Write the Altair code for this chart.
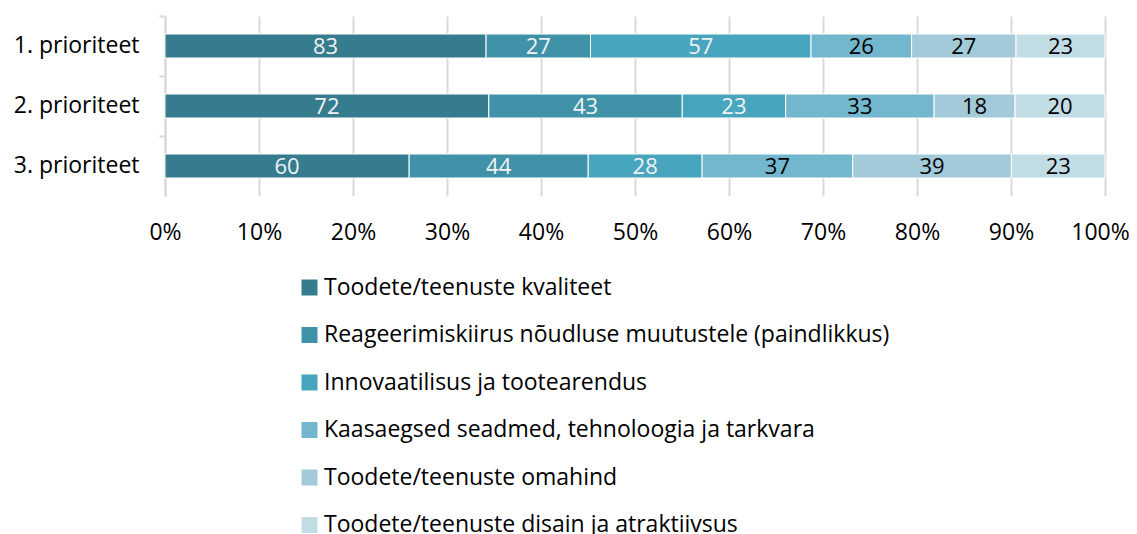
import altair as alt
import pandas as pd

priorities = ["1. prioriteet", "2. prioriteet", "3. prioriteet"]
series = [
    "Toodete/teenuste kvaliteet",
    "Reageerimiskiirus nõudluse muutustele (paindlikkus)",
    "Innovaatilisus ja tootearendus",
    "Kaasaegsed seadmed, tehnoloogia ja tarkvara",
    "Toodete/teenuste omahind",
    "Toodete/teenuste disain ja atraktiivsus",
]
values_p1 = [83, 27, 57, 26, 27, 23]
values_p2 = [72, 43, 23, 33, 18, 20]
values_p3 = [60, 44, 28, 37, 39, 23]
colors = ["#367C8F", "#4092A9", "#47A5BE", "#72B7CD", "#A2CAD9", "#C2DCE6"]
label_colors = ["#F2F2F2", "#F2F2F2", "#F2F2F2", "#000000", "#000000", "#000000"]

rows = []
for p, vals in zip(priorities, [values_p1, values_p2, values_p3]):
    for i, (s, v) in enumerate(zip(series, vals)):
        rows.append({"prio": p, "series": s, "value": v, "idx": i, "tcol": label_colors[i]})
df = pd.DataFrame(rows)

FONT = "Open Sans"
FS = 23

base = alt.Chart(df).transform_stack(
    stack="value", groupby=["prio"], sort=[alt.SortField("idx", order="ascending")],
    as_=["x0", "x1"], offset="normalize"
).transform_calculate(mid="(datum.x0 + datum.x1) / 2")

yscale = alt.Scale(domain=priorities, paddingInner=0, paddingOuter=0)
xscale = alt.Scale(domain=[0, 1], nice=False)

bars = base.mark_bar(size=24, stroke="white", strokeWidth=1).encode(
    y=alt.Y("prio:N", scale=yscale, title=None,
            axis=alt.Axis(ticks=False, domain=True, domainColor="#D9D9D9", domainWidth=2,
                          labelFontSize=FS, labelColor="#000000", labelFont=FONT, labelPadding=26)),
    x=alt.X("x0:Q", scale=xscale, title=None,
            axis=alt.Axis(format="%", values=[i / 10 for i in range(11)], grid=True,
                          gridColor="#D9D9D9", gridWidth=2, domain=False, ticks=False,
                          labelFlush=False, labelOverlap=False, labelBound=False,
                          labelOffset={"condition": {"test": "datum.value >= 0.99", "value": -5}, "value": 0},
                          labelFontSize=FS, labelColor="#000000", labelFont=FONT, labelPadding=25)),
    x2="x1:Q",
    color=alt.Color("series:N", scale=alt.Scale(domain=series, range=colors), sort=series,
                    legend=alt.Legend(title=None, orient="none", legendX=133, legendY=260,
                                      direction="vertical", symbolType="square", symbolSize=256,
                                      symbolStrokeWidth=0, labelFontSize=FS, labelFont=FONT,
                                      labelColor="#000000", rowPadding=23.5, labelLimit=900,
                                      labelOffset=3)),
    order=alt.Order("idx:Q"),
)

texts = base.mark_text(fontSize=22, font=FONT, baseline="middle", align="center", dy=1).encode(
    y=alt.Y("prio:N", scale=yscale, axis=None),
    x=alt.X("mid:Q", scale=xscale),
    text=alt.Text("value:Q"),
    color=alt.Color("tcol:N", scale=None, legend=None),
)

ticks = alt.Chart(df).mark_bar(opacity=0).encode(
    y=alt.Y("prio:N", scale=yscale, title=None,
            axis=alt.Axis(orient="left", labels=False, domain=False, ticks=True, tickSize=6,
                          tickColor="#D9D9D9", tickWidth=2, bandPosition=0)),
)

chart = alt.layer(bars, texts, ticks).resolve_axis(y="independent").properties(
    width=940, height=180,
    autosize=alt.AutoSizeParams(type="none"),
    padding={"left": 157, "top": 8, "right": 24, "bottom": 400},
).configure_view(stroke=None)

chart.save("out.html", embed_options={"renderer": "svg", "actions": False})
